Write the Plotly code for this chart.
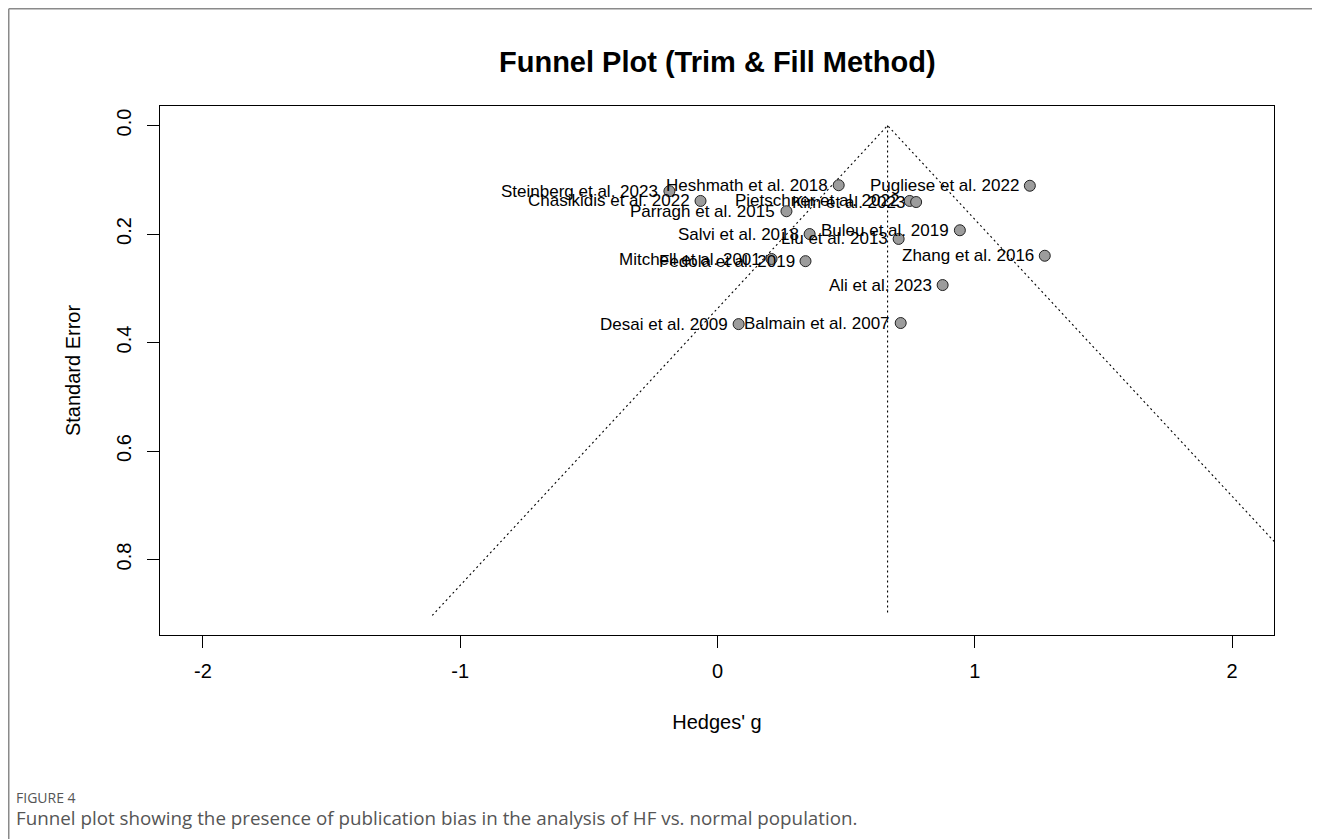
import plotly.graph_objects as go

# ---- data ----
studies = [
    "Heshmath et al. 2018", "Pugliese et al. 2022", "Steinberg et al. 2023",
    "Chasikidis et al. 2022", "Pietschner et al. 2022", "Kim et al. 2023",
    "Parragh et al. 2015", "Buleu et al. 2019", "Salvi et al. 2018",
    "Liu et al. 2013", "Zhang et al. 2016", "Mitchell et al. 2001",
    "Fedola et al. 2019", "Ali et al. 2023", "Desai et al. 2009",
    "Balmain et al. 2007",
]
hedges_g = [0.471, 1.214, -0.187, -0.066, 0.747, 0.772, 0.268, 0.942,
            0.358, 0.704, 1.272, 0.210, 0.342, 0.875, 0.082, 0.712]
std_err = [0.110, 0.111, 0.121, 0.139, 0.139, 0.141, 0.158, 0.193,
           0.200, 0.209, 0.240, 0.246, 0.250, 0.294, 0.366, 0.364]

pooled_estimate = 0.661
se_max = 0.903
z_crit = 1.96

x_ticks = [-2, -1, 0, 1, 2]
y_ticks = [0.0, 0.2, 0.4, 0.6, 0.8]
x_range = [-2.167, 2.163]
y_range = [0.939, -0.036]

FONT = "Liberation Sans, Arial, Helvetica, sans-serif"
CAP_FONT = "Open Sans, sans-serif"

fig = go.Figure()

# funnel (pseudo-confidence region) lines
funnel_x = [pooled_estimate - z_crit * se_max, pooled_estimate, pooled_estimate + z_crit * se_max]
funnel_y = [se_max, 0.0, se_max]
fig.add_trace(go.Scatter(x=funnel_x, y=funnel_y, mode="lines",
                         line=dict(color="black", width=1.1, dash="2px,3px"),
                         hoverinfo="skip", showlegend=False))
# vertical line at the pooled estimate
fig.add_trace(go.Scatter(x=[pooled_estimate, pooled_estimate], y=[0.0, se_max], mode="lines",
                         line=dict(color="black", width=1.1, dash="2px,3px"),
                         hoverinfo="skip", showlegend=False))

# study points
fig.add_trace(go.Scatter(x=hedges_g, y=std_err, mode="markers",
                         marker=dict(size=11, color="#9c9c9c",
                                     line=dict(color="#222222", width=1)),
                         showlegend=False))

# study labels to the left of each point
for name, g, se in zip(studies, hedges_g, std_err):
    fig.add_annotation(x=g, y=se, xref="x", yref="y", text=name, showarrow=False,
                       xanchor="right", yanchor="middle", xshift=-9,
                       font=dict(family=FONT, size=17, color="black"))

# page body has an 8px margin: figure origin sits at (8, 8) of the window
OFF = 8
L, R, T, B = 160 - OFF, 46, 106 - OFF, 204
W, H = 1320 - OFF, 839 - OFF
pw, ph = W - L - R, H - T - B

def px(xp):
    return (xp - OFF - L) / pw

def py(yp):
    return (H - B - (yp - OFF)) / ph

# title
fig.add_annotation(x=0.5, y=py(62), xref="paper", yref="paper",
                   text="<b>Funnel Plot (Trim &amp; Fill Method)</b>", showarrow=False,
                   xanchor="center", yanchor="middle",
                   font=dict(family=FONT, size=29, color="black"))

# outer figure frame (top and left edges)
fig.add_shape(type="line", xref="paper", yref="paper", x0=px(8.75), x1=px(1330),
              y0=py(8.75), y1=py(8.75), line=dict(color="#8a8a8a", width=1.5))
fig.add_shape(type="line", xref="paper", yref="paper", x0=px(8.75), x1=px(8.75),
              y0=py(8.75), y1=py(850), line=dict(color="#8a8a8a", width=1.5))

# caption
fig.add_annotation(x=px(14), y=py(797), xref="paper", yref="paper", text="FIGURE 4",
                   showarrow=False, xanchor="left", yanchor="middle",
                   font=dict(family=CAP_FONT, size=14, color="#555555"))
fig.add_annotation(x=px(14), y=py(818), xref="paper", yref="paper",
                   text="Funnel plot showing the presence of publication bias in the analysis of HF vs. normal population.",
                   showarrow=False, xanchor="left", yanchor="middle",
                   font=dict(family=CAP_FONT, size=18.8, color="#555555"))

fig.update_layout(
    width=W, height=H,
    margin=dict(l=L, r=R, t=T, b=B),
    paper_bgcolor="white", plot_bgcolor="white",
    showlegend=False,
    font=dict(family=FONT, size=20, color="black"),
    xaxis=dict(range=x_range, tickvals=x_ticks, ticktext=[str(v) for v in x_ticks],
               showgrid=False, zeroline=False, showline=True, mirror=True,
               linecolor="black", linewidth=1.2, ticks="outside", ticklen=12,
               tickwidth=1.1, tickcolor="black", ticklabelstandoff=6,
               tickfont=dict(family=FONT, size=20),
               title=dict(text="Hedges' g", font=dict(family=FONT, size=20), standoff=33)),
    yaxis=dict(range=y_range, tickvals=y_ticks, ticktext=[f"{v:.1f}" for v in y_ticks],
               tickangle=-90,
               showgrid=False, zeroline=False, showline=True, mirror=True,
               linecolor="black", linewidth=1.2, ticks="outside", ticklen=12,
               tickwidth=1.1, tickcolor="black", ticklabelstandoff=8,
               tickfont=dict(family=FONT, size=20),
               title=dict(text="Standard Error", font=dict(family=FONT, size=20), standoff=26)),
)

fig.write_html("out.html")
